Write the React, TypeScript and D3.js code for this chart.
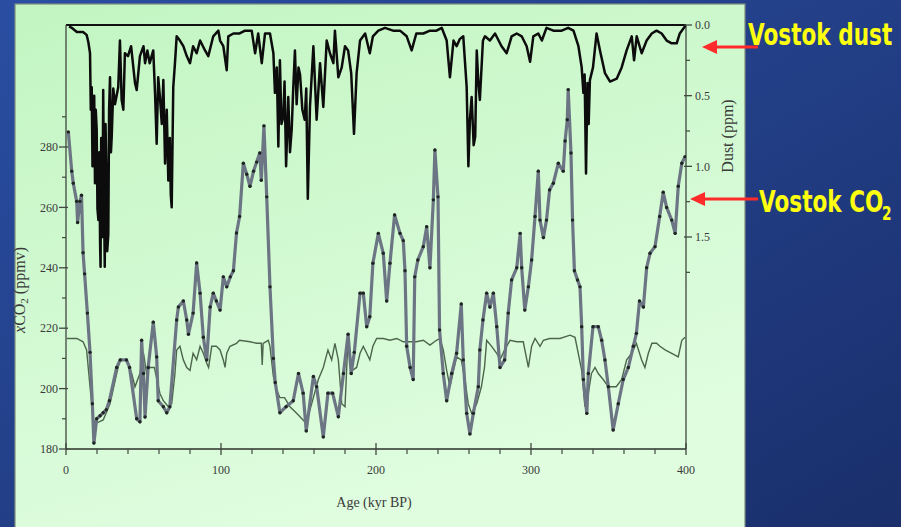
import React from 'react'
import * as d3 from 'd3'

// Vostok record (age in kyr BP)
const co2Ages = [1.5, 3.7, 4.7, 6.9, 7.5, 9, 10, 11, 12, 13.8, 15.5, 17, 18, 19.8, 22, 24, 26, 28, 32.7, 35, 39, 41, 45.6, 47.7, 48.8, 50, 51, 53, 56.3, 58.5, 59.5, 62.8, 65, 67, 71.4, 72.5, 75.7, 77.9, 79, 82, 84.3, 86.5, 88.6, 90.8, 93, 95, 97, 99.4, 101.5, 103.7, 106, 108, 110, 112, 114.4, 116.6, 118.7, 121, 123, 125, 126, 127.7, 129.5, 131.6, 133.8, 135, 138, 142, 146.6, 150, 153, 155, 159.6, 161.7, 166, 169, 172, 175.7, 179, 182, 184, 186, 189.7, 191.8, 194, 196, 198, 201.5, 204.7, 206.9, 209, 212, 215.5, 217.6, 218.7, 219.8, 222, 224, 225, 227, 230.5, 232.7, 234.8, 237, 238, 240, 241, 243.4, 245.6, 248.8, 252, 255, 256.3, 258.5, 260.6, 262.8, 266, 267, 269, 271.4, 273.5, 275.7, 277.9, 280, 283, 285.3, 287.5, 290.8, 293, 294, 296, 298.3, 300.4, 302.6, 304.7, 305.8, 308, 310, 312, 314.4, 317.6, 320.8, 322, 323.4, 324, 325.8, 326.8, 328, 330, 331.6, 332.7, 333.8, 336, 337, 340, 343.4, 345.6, 347.7, 349.9, 353, 356.3, 359.5, 362.8, 366, 368, 370, 372.5, 374.6, 376.8, 380, 383, 385.3, 387.5, 390.8, 393, 395, 397.3, 399.4]
const co2Values = [285, 272, 268, 262, 255, 262, 264, 245, 238, 225, 212, 195, 182, 190, 191, 192, 193, 196, 207, 209.5, 209.5, 207, 190, 189, 216, 205, 190.6, 207, 222, 210.5, 196, 194, 192, 194, 222.7, 227, 229, 222.7, 218, 225, 241.6, 231.6, 217, 209.5, 227, 231.6, 229, 226, 237, 233.7, 237, 239, 251.5, 257, 274.6, 271, 267, 272, 275, 278, 269, 287, 263.5, 233.7, 210, 202, 192, 194, 196, 205, 198.5, 186, 204, 200.6, 184, 198.5, 198.5, 190.7, 205, 218, 205, 212, 231.6, 231.6, 220.5, 223.8, 241.5, 251.4, 244.8, 229, 241.5, 257.5, 251.4, 249, 239, 214, 207, 203, 237, 242.6, 247, 253.6, 240, 262.5, 279, 263.5, 219.4, 205, 196, 205, 211.7, 228, 209.5, 191.8, 185, 191.8, 200.6, 212.8, 222.7, 231.6, 227, 231.6, 220.5, 207, 209.5, 225, 236, 240, 251.4, 240, 226, 233.7, 242.6, 257, 272, 255.8, 250, 255.8, 265.8, 268, 274.6, 272, 282, 289, 299, 278, 255.8, 239, 236, 233.7, 220.5, 203, 191.8, 205, 220.5, 220.5, 216, 209.5, 200.6, 186.3, 195, 203, 207, 214, 218.3, 229, 227, 240, 244.8, 247, 257, 265, 260, 255.8, 251.4, 267, 274.6, 276.8]

const modelAges = [0.4, 7, 11, 13.3, 15.5, 17.6, 19.8, 24, 28.4, 32.7, 34.8, 39, 42.4, 44.5, 47.7, 50, 52, 54, 57, 60.6, 62.8, 66, 68.2, 70.3, 71.4, 73.5, 75.7, 77.9, 80, 82, 84.3, 86.5, 88.6, 90.8, 92, 94, 97, 99.4, 101.5, 102.6, 103.7, 105.8, 110, 112, 118.7, 123, 126, 126.6, 127.2, 130.5, 131.6, 133.8, 136, 138, 141, 144.5, 148.8, 155, 159.6, 162.8, 166, 169, 171.4, 173.5, 175.7, 177.9, 180, 182, 184.5, 187.5, 189.7, 191.8, 194, 196, 198, 200.4, 204.7, 209, 213.4, 217.6, 222, 226, 230.5, 234.8, 239, 241.3, 243.4, 245.6, 247.7, 252, 255, 257.4, 259.5, 261.7, 265, 268, 270, 271.4, 274.6, 277.9, 280, 283, 286.5, 290.8, 295, 298.3, 300.4, 302.6, 305.8, 308, 312, 318.7, 325.2, 328.4, 330.5, 332.7, 334.8, 337, 339, 341.3, 343.4, 346.6, 349.9, 355, 358.5, 361.7, 365, 368, 371.4, 373.5, 375.7, 378, 381, 383.2, 386.5, 390.8, 395, 397.3, 399.4]
const modelValues = [216.6, 216.6, 215.5, 212.8, 200.6, 189.6, 188.6, 189.6, 195, 205, 209.5, 209.5, 205, 200.6, 205, 211.7, 205, 207, 207, 198.4, 196, 194, 195, 205, 212.8, 214, 209.5, 207, 206, 211.7, 209.5, 214, 211.7, 208.4, 207, 214, 214, 212.8, 209.5, 207, 211.7, 214, 215, 216, 215.5, 215, 215, 207.8, 215, 216, 214, 204, 199.5, 197, 197, 194, 191.8, 188.5, 197, 203, 207, 212.8, 209.5, 215, 209.5, 195, 194, 217, 206, 207, 211.7, 214, 211.7, 209.5, 214, 216.6, 216.6, 216, 216.6, 215.5, 215.5, 215.5, 216, 214.4, 216, 216.6, 212.8, 206, 200.6, 210.5, 209.5, 203, 195, 191.8, 195, 200.6, 207, 216, 214, 211.7, 209.5, 212.8, 216, 215.5, 215.5, 207, 214, 216.6, 214, 216, 216.6, 216.6, 217.7, 217, 211.7, 206, 194, 198.4, 205, 207, 205, 203, 200.6, 200.6, 203, 209.5, 211.7, 215, 209.5, 207, 211.7, 215, 215, 214, 212.8, 211.7, 210.5, 216, 217]

const dustAges = [2, 3.7, 7, 11, 13.3, 14.4, 15.5, 16, 16.6, 17.1, 17.6, 18.2, 18.7, 19.2, 19.8, 20.3, 20.9, 21.5, 22, 22.3, 22.7, 23, 23.5, 24, 24.5, 25, 25.5, 26, 26.6, 27.3, 27.8, 28.4, 29, 29.5, 30.5, 31.6, 33.7, 34.8, 35.9, 37, 38, 40, 42, 44.5, 45.6, 47.7, 50, 51, 52.5, 54, 56.3, 57.5, 58.5, 59.5, 60.6, 61.8, 62.8, 63.9, 65, 66, 67, 67.6, 68.2, 69.2, 70.3, 71.4, 73.5, 75.7, 77.9, 80, 82, 84.3, 86.5, 89.7, 91.8, 95, 98.3, 99.4, 101.5, 103.7, 104.7, 108, 112, 115.5, 119.8, 122, 124, 126.3, 128.4, 130.5, 131.6, 133.8, 134.8, 136, 137, 138, 139, 140.2, 141, 142, 143.4, 144.5, 145.6, 146.6, 147.7, 148.8, 150, 151, 152.5, 154, 155, 156, 157.4, 159.6, 161.7, 163.9, 166, 168.2, 170.3, 172.5, 173.5, 175.7, 177.9, 180, 182, 184, 185.8, 187.5, 189.7, 193, 196, 198, 201.5, 205.8, 211, 215.5, 219.8, 223, 226, 230.5, 234.8, 239, 242.4, 245.6, 247.7, 250, 252, 254, 256.3, 258.5, 259.6, 260.6, 261.7, 263, 264, 265, 266, 267, 269, 270.3, 273.5, 276.8, 281, 284.3, 287.5, 290.8, 294, 297.2, 299.4, 301.5, 304.7, 307, 310, 314.4, 319.8, 324, 327.4, 330.6, 332.7, 333.8, 334.6, 335.5, 336.4, 337.2, 338, 340, 342.3, 344.5, 347.7, 351, 355.3, 358.5, 361.7, 365, 366.5, 368.2, 371.4, 374.6, 377.9, 381, 384.3, 387.5, 390.8, 394, 396, 398.7, 400]
const dustValues = [0.01, 0.02, 0.05, 0.05, 0.07, 0.12, 0.2, 0.6, 0.44, 1.0, 0.91, 0.5, 1.12, 0.6, 0.74, 1.3, 1.38, 0.9, 1.55, 1.71, 0.8, 1.03, 1.5, 0.46, 1.2, 1.71, 0.7, 1.0, 1.6, 1.48, 0.6, 0.37, 0.9, 0.79, 0.45, 0.56, 0.44, 0.11, 0.53, 0.6, 0.2, 0.22, 0.15, 0.41, 0.46, 0.22, 0.15, 0.27, 0.18, 0.27, 0.18, 0.5, 0.84, 0.37, 0.51, 0.7, 0.39, 0.98, 0.6, 1.1, 0.8, 1.2, 1.29, 0.44, 0.27, 0.08, 0.11, 0.15, 0.22, 0.27, 0.15, 0.2, 0.11, 0.18, 0.22, 0.08, 0.04, 0.11, 0.15, 0.32, 0.08, 0.06, 0.06, 0.04, 0.04, 0.2, 0.06, 0.27, 0.06, 0.06, 0.06, 0.2, 0.48, 0.3, 0.86, 0.25, 0.7, 0.65, 0.4, 1.0, 0.51, 0.9, 0.74, 0.45, 0.18, 0.56, 0.3, 0.35, 0.6, 0.67, 0.45, 1.23, 0.58, 0.15, 0.67, 0.27, 0.58, 0.11, 0.2, 0.27, 0.04, 0.37, 0.3, 0.15, 0.18, 0.34, 0.77, 0.34, 0.11, 0.06, 0.2, 0.08, 0.04, 0.02, 0.04, 0.04, 0.08, 0.18, 0.06, 0.06, 0.04, 0.04, 0.02, 0.11, 0.37, 0.11, 0.15, 0.1, 0.08, 0.44, 1.0, 0.67, 0.51, 0.85, 0.79, 0.18, 0.4, 0.53, 0.11, 0.08, 0.11, 0.06, 0.15, 0.2, 0.08, 0.06, 0.08, 0.15, 0.26, 0.08, 0.06, 0.11, 0.02, 0.04, 0.04, 0.02, 0.04, 0.15, 0.3, 0.48, 0.35, 1.05, 0.41, 0.7, 0.39, 0.3, 0.06, 0.18, 0.34, 0.4, 0.38, 0.3, 0.18, 0.08, 0.25, 0.08, 0.2, 0.11, 0.06, 0.04, 0.06, 0.11, 0.13, 0.13, 0.06, 0.02, 0]

const co2Ticks = [180, 200, 220, 240, 260, 280]
const co2Minor = [190, 210, 230, 250, 270, 290]
const dustTicks = [0, 0.5, 1.0, 1.5]
const dustMinor = [0.25, 0.75, 1.25, 1.75]
const ageTicks = [0, 100, 200, 300, 400]
const ageMinor = [20, 40, 60, 80, 120, 140, 160, 180, 220, 240, 260, 280, 320, 340, 360, 380]

export default function App() {
  const left = 66, right = 686, top = 25, bottom = 449

  const x = d3.scaleLinear().domain([0, 400]).range([left, right])
  const yCo2 = d3.scaleLinear().domain([180, 280]).range([bottom, 147])
  const yDust = d3.scaleLinear().domain([0, 1.5]).range([top, 237])

  const co2 = co2Ages.map((a, i) => [a, co2Values[i]])
  const model = modelAges.map((a, i) => [a, modelValues[i]])
  const dust = dustAges.map((a, i) => [a, dustValues[i]])

  const co2Line = d3.line().x(d => x(d[0])).y(d => yCo2(d[1]))
  const dustLine = d3.line().x(d => x(d[0])).y(d => yDust(d[1]))
  const fmt = d3.format('.1f')

  const tickFont = { fontFamily: 'Liberation Serif, serif', fontSize: 12, fill: '#3a3a3a' }
  const axisCol = '#404840'

  return (
    <svg width={901} height={527} style={{ position: 'absolute', left: 0, top: 0 }}>
      <defs>
        <linearGradient id="bg" x1="0" y1="0" x2="1" y2="1">
          <stop offset="0" stopColor="#2a4ea2" />
          <stop offset="1" stopColor="#1a2f6b" />
        </linearGradient>
        <linearGradient id="panel" x1="0" y1="0" x2="0.4" y2="1">
          <stop offset="0" stopColor="#c2f5c2" />
          <stop offset="1" stopColor="#e0fde0" />
        </linearGradient>
        <clipPath id="plot">
          <rect x={left} y={top} width={right - left} height={bottom - top} />
        </clipPath>
      </defs>

      <rect x={0} y={0} width={901} height={527} fill="url(#bg)" />
      <rect x={15} y={4} width={730} height={530} fill="url(#panel)" stroke="#7d8d7d" strokeWidth={1.2} />

      {/* frame */}
      <line x1={left} x2={right} y1={top} y2={top} stroke="#111" strokeWidth={2} />
      <line x1={left} x2={left} y1={top} y2={bottom} stroke={axisCol} strokeWidth={1.3} />
      <line x1={right} x2={right} y1={top} y2={bottom} stroke={axisCol} strokeWidth={1.3} />
      <line x1={left} x2={right} y1={bottom} y2={bottom} stroke="#2a302a" strokeWidth={1.6} />

      <g clipPath="url(#plot)">
        <path d={co2Line(model)} fill="none" stroke="#4c654c" strokeWidth={1.4} />
        <path d={co2Line(co2)} fill="none" stroke="#6c7584" strokeWidth={3.2} strokeLinejoin="round" />
        {co2.map((d, i) => (
          <circle key={i} cx={x(d[0])} cy={yCo2(d[1])} r={1.7} fill="#1e2420" />
        ))}
        <path d={dustLine(dust)} fill="none" stroke="#0c0c0c" strokeWidth={2.5} strokeLinejoin="round" />
      </g>

      {/* left axis */}
      {co2Ticks.map(t => (
        <g key={t}>
          <line x1={left - 7} x2={left + 2} y1={yCo2(t)} y2={yCo2(t)} stroke={axisCol} strokeWidth={1.3} />
          <text x={left - 8} y={yCo2(t)} dy="0.35em" textAnchor="end" {...tickFont}>{t}</text>
        </g>
      ))}
      {co2Minor.map(t => (
        <line key={t} x1={left - 4} x2={left} y1={yCo2(t)} y2={yCo2(t)} stroke={axisCol} strokeWidth={1.2} />
      ))}

      {/* right axis */}
      {dustTicks.map(t => (
        <g key={t}>
          <line x1={right - 2} x2={right + 6} y1={yDust(t)} y2={yDust(t)} stroke={axisCol} strokeWidth={1.3} />
          <text x={right + 9} y={yDust(t)} dy="0.35em" {...tickFont}>{fmt(t)}</text>
        </g>
      ))}
      {dustMinor.map(t => (
        <line key={t} x1={right} x2={right + 4} y1={yDust(t)} y2={yDust(t)} stroke={axisCol} strokeWidth={1.2} />
      ))}

      {/* bottom axis */}
      {ageTicks.map(t => (
        <g key={t}>
          <line x1={x(t)} x2={x(t)} y1={bottom - 6} y2={bottom + 6} stroke={axisCol} strokeWidth={1.3} />
          <text x={x(t)} y={bottom + 25} textAnchor="middle" {...tickFont}>{t}</text>
        </g>
      ))}
      {ageMinor.map(t => (
        <line key={t} x1={x(t)} x2={x(t)} y1={bottom} y2={bottom + 5} stroke={axisCol} strokeWidth={1.2} />
      ))}

      {/* axis titles */}
      <text x={374} y={507} textAnchor="middle" fontFamily="Liberation Serif, serif" fontSize={14} fill="#3a3a3a">Age (kyr BP)</text>
      <text transform="translate(25,290) rotate(-90)" textAnchor="middle" fontFamily="Liberation Serif, serif" fontSize={16} fill="#3a3a3a">
        <tspan fontStyle="italic">x</tspan>CO<tspan fontSize={11} dy={3}>2</tspan><tspan dy={-3}> (ppmv)</tspan>
      </text>
      <text transform="translate(733,136) rotate(-90)" textAnchor="middle" fontFamily="Liberation Serif, serif" fontSize={16} fill="#3a3a3a">Dust (ppm)</text>

      {/* annotations */}
      <g fill="#ff2a2a" stroke="none">
        <line x1={712} x2={758} y1={47} y2={47} stroke="#ff2a2a" strokeWidth={3} />
        <path d="M702,47 L717,40 L717,54 Z" />
        <line x1={700} x2={758} y1={199} y2={199} stroke="#ff2a2a" strokeWidth={3} />
        <path d="M690,199 L705,192 L705,206 Z" />
      </g>
      <text transform="translate(748,45) scale(0.72,1)" fontFamily="DejaVu Sans, sans-serif" fontWeight="bold" fontSize={30} fill="#ffff10">Vostok dust</text>
      <text transform="translate(759,212) scale(0.72,1)" fontFamily="DejaVu Sans, sans-serif" fontWeight="bold" fontSize={30} fill="#ffff10">Vostok CO</text>
      <text transform="translate(882,220) scale(0.72,1)" fontFamily="DejaVu Sans, sans-serif" fontWeight="bold" fontSize={19} fill="#ffff10">2</text>
    </svg>
  )
}
